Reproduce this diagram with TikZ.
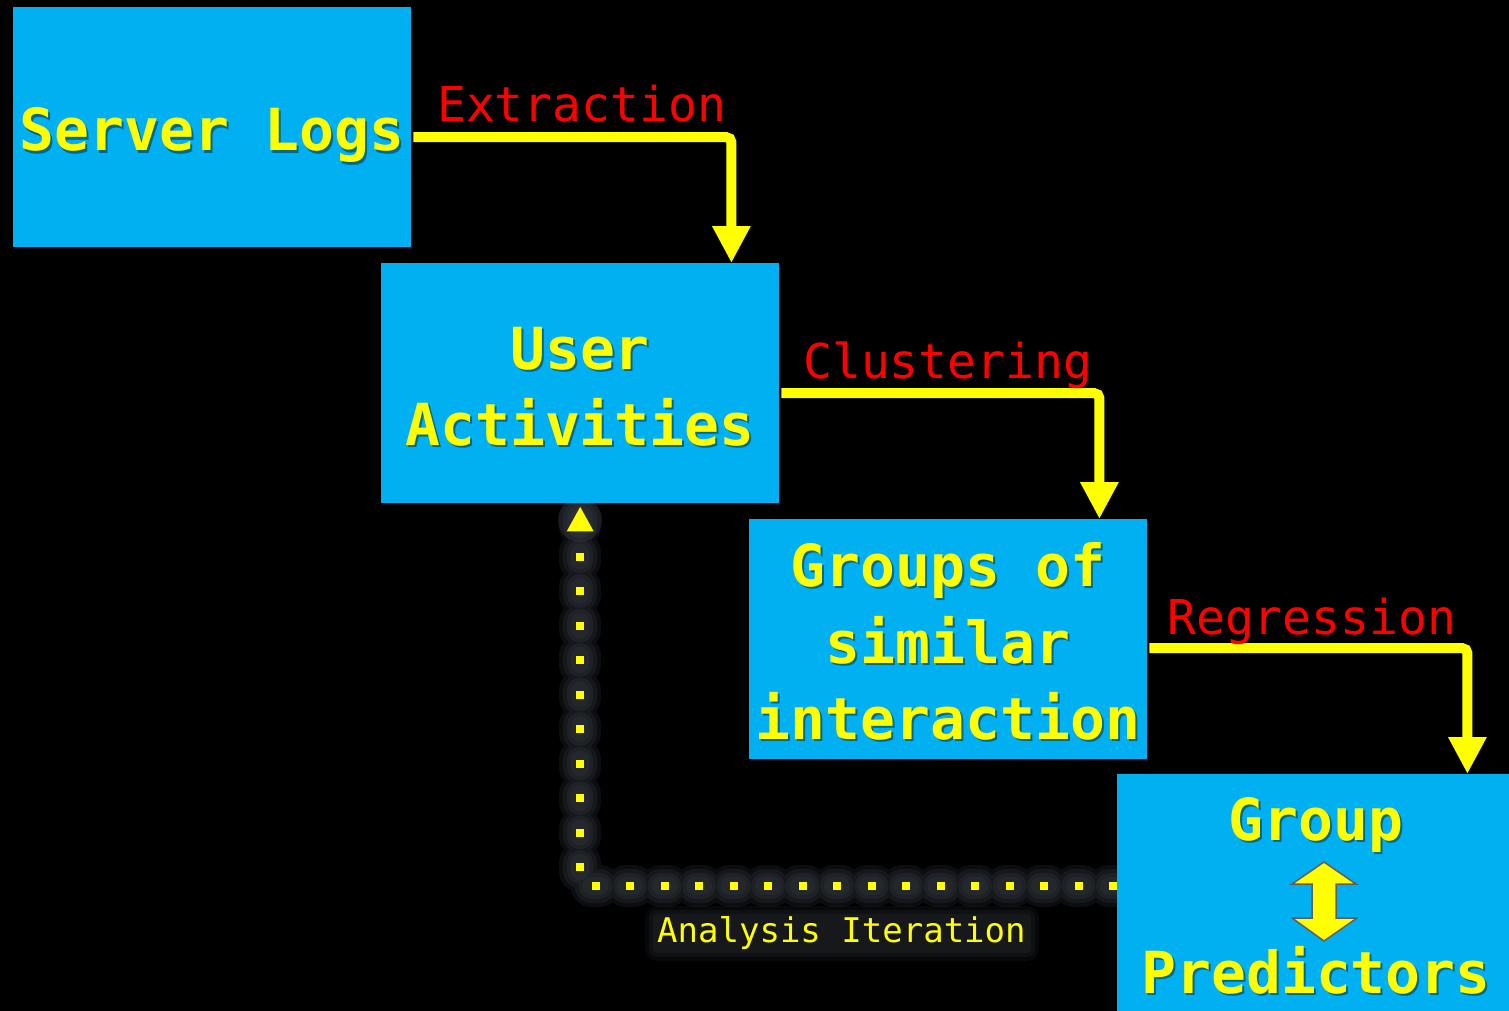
\documentclass[tikz,border=0pt]{standalone}
\usepackage{fontspec}
\newfontfamily\monof{DejaVu Sans Mono}
\usetikzlibrary{arrows.meta,calc}
\definecolor{boxblue}{HTML}{00B0F0}
\definecolor{ylw}{HTML}{FFFF00}
\definecolor{glowc}{HTML}{40454F}
\definecolor{arrowedge}{HTML}{5F5F5F}
\newcommand\ytext[3]{%
  \node[shdw] (#1s) at ([xshift=2pt,yshift=-2.5pt]#2) {#3};
  \node[bigtxt] (#1) at (#2) {#3};}
\begin{document}
\begin{tikzpicture}[x=1pt,y=-1pt,
  box/.style={fill=boxblue, minimum width=398pt, minimum height=240pt, inner sep=0pt, anchor=north west, draw=none},
  bigtxt/.style={font=\monof\bfseries\fontsize{58}{76}\selectfont, text=ylw, anchor=base, inner sep=0pt},
  shdw/.style={font=\monof\bfseries\fontsize{58}{76}\selectfont, text=black, text opacity=0.4, anchor=base, inner sep=0pt},
  lbl/.style={font=\monof\fontsize{48}{56}\selectfont, text=red, anchor=base west, inner sep=0pt},
  flow/.style={draw=ylw, line width=10pt, rounded corners=5pt, -{Triangle[length=37pt,width=36pt]}},
  iter/.style={draw=ylw, line width=8pt, dash pattern=on 8pt off 26.5pt, -{Triangle[length=25pt,width=25pt]}},
  glowline/.style={draw=glowc, line width=#1, line cap=round, line join=round, dash pattern=on 8pt off 26.5pt, opacity=0.2},
  smalltxt/.style={font=\monof\fontsize{34}{40}\selectfont, anchor=base west, inner sep=0pt},
]
\fill[black] (0,0) rectangle (1509,1011);
\clip (0,0) rectangle (1509,1011);

% coordinates for the loop (boxes are placed at fixed positions)
\coordinate (predw) at (1117,886);
\coordinate (users) at (580,506);

% iteration loop soft glow (under the boxes)
\foreach \w in {42,34,26,18} {
  \draw[glowline=\w pt] (predw) -| (users);
}
\fill[glowc, opacity=0.3] (580,520) circle (22pt);

% Analysis Iteration soft glow
\foreach \r/\o in {12/0.12,8/0.14,4/0.16} {
  \fill[glowc, opacity=\o, rounded corners=\r pt] (657-\r,918-\r) rectangle (1027+\r,949+\r);
}

% boxes
\node[box] (logs) at (13,7) {};
\node[box] (user) at (381,263) {};
\node[box] (grp) at (749,519) {};
\node[box] (pred) at (1117,774) {};

% box texts
\ytext{tlogs}{212,151}{Server Logs}
\ytext{tuser}{580,369}{User}
\ytext{tact}{580,445}{Activities}
\ytext{tgrp}{948,586}{Groups of}
\ytext{tsim}{948,663}{similar}
\ytext{tint}{948,739}{interaction}
\ytext{tgroup}{1316,840}{Group}
\ytext{tpred}{1316,993}{Predictors}

% double arrow
\draw[fill=ylw, draw=arrowedge, line width=1.5pt, line join=miter]
  (1324,862) -- (1356,884) -- (1336,884) -- (1336,918) -- (1357,918) -- (1324,941)
  -- (1292,918) -- (1312,918) -- (1312,884) -- (1292,884) -- cycle;

% main flow arrows
\draw[flow] ([shift={(2,10)}]logs.east) -| ([xshift=-48pt]user.north east);
\draw[flow] ([shift={(2,10)}]user.east) -| ([xshift=-48pt]grp.north east);
\draw[flow] ([shift={(2,9)}]grp.east) -| ([xshift=-48pt]pred.north east);

% labels
\node[lbl] (lext) at (437,122) {Extraction};
\node[lbl] (lclu) at (803,378) {Clustering};
\node[lbl] (lreg) at (1167,634) {Regression};

% iteration loop
\draw[iter] ([yshift=8pt]pred.west) -| ([yshift=-3pt]user.south);
\node[smalltxt, text=ylw] (liter) at (657,942) {Analysis Iteration};
\end{tikzpicture}
\end{document}
